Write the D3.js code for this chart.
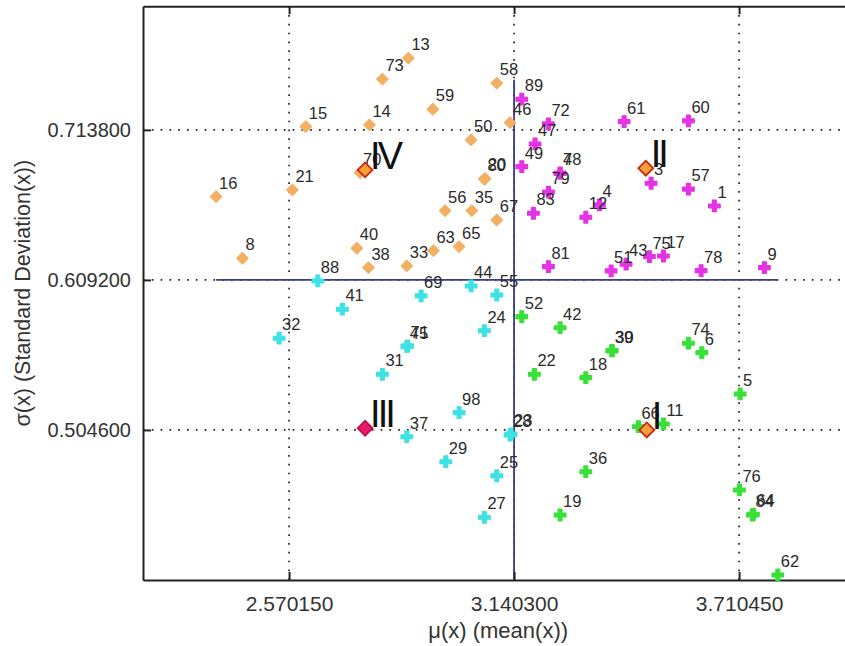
<!DOCTYPE html>
<html>
<head>
<meta charset="utf-8">
<script src="https://cdn.jsdelivr.net/npm/d3@7"></script>
<style>
  html, body { margin: 0; padding: 0; background: #fff; }
  svg { display: block; }
</style>
</head>
<body>
<svg id="chart" width="845" height="646"></svg>
<script>
// ---------------- DATA ----------------
const xTicks = [2.570150, 3.140300, 3.710450];
const yTicks = [0.504600, 0.609200, 0.713800];
const xTickLabels = ["2.570150", "3.140300", "3.710450"];
const yTickLabels = ["0.504600", "0.609200", "0.713800"];

// Cluster IV (orange)
const orangeLabels = ["13","73","58","59","15","14","46","50","70","80","20","16","21","56","35","67","40","63","65","8","38","33"];
const orangeX = [2.8725,2.8066,3.0965,2.9344,2.6125,2.7737,3.1302,3.0314,2.7500,3.0651,3.0665,2.3852,2.5786,2.9655,3.0332,3.0965,2.7418,2.9359,3.0010,2.4519,2.7712,2.8685];
const orangeY = [0.7638,0.7492,0.7464,0.7282,0.7161,0.7173,0.7189,0.7068,0.6840,0.6794,0.6800,0.6673,0.6720,0.6575,0.6575,0.6510,0.6313,0.6296,0.6324,0.6243,0.6178,0.6190];

// Cluster III (cyan)
const cyanLabels = ["88","69","44","55","41","32","24","45","71","31","98","37","29","25","27","28","23"];
const cyanX = [2.6430,2.9047,3.0314,3.0965,2.7053,2.5449,3.0651,2.8685,2.8705,2.8066,3.0010,2.8685,2.9673,3.0965,3.0651,3.1302,3.1327];
const cyanY = [0.6085,0.5981,0.6050,0.5987,0.5888,0.5686,0.5738,0.5627,0.5632,0.5434,0.5167,0.4999,0.4825,0.4727,0.4437,0.5011,0.5018];

// Cluster I (green)
const greenLabels = ["52","42","39","30","22","18","74","6","5","66","11","36","19","76","84","64","62"];
const greenX = [3.1599,3.2569,3.3880,3.3890,3.1918,3.3221,3.5821,3.6160,3.7131,3.4553,3.5187,3.3221,3.2569,3.7113,3.7443,3.7468,3.8086];
const greenY = [0.5836,0.5759,0.5597,0.5600,0.5434,0.5411,0.5651,0.5585,0.5297,0.5069,0.5088,0.4755,0.4453,0.4628,0.4453,0.4458,0.4035];

// Cluster II (magenta)
const magentaLabels = ["89","72","47","49","48","7","79","83","4","12","61","60","3","57","1","81","51","43","75","17","78","9"];
const magentaX = [3.1599,3.2273,3.1936,3.1599,3.2569,3.2569,3.2273,3.1893,3.3565,3.3221,3.4191,3.5821,3.4875,3.5821,3.6479,3.2273,3.3862,3.4242,3.4832,3.5187,3.6142,3.7746];
const magentaY = [0.7352,0.7180,0.7040,0.6882,0.6836,0.6836,0.6704,0.6557,0.6615,0.6529,0.7196,0.7201,0.6766,0.6725,0.6608,0.6185,0.6155,0.6202,0.6255,0.6259,0.6157,0.6178];

// Cluster centres
const centreLabels = ["IV","II","III","I"];
const centreX = [2.7628, 3.4741, 2.7628, 3.4766];
const centreY = [0.6859, 0.6871, 0.5058, 0.5046];

// Reference lines (mean of x, mean of sigma)
const hLineY = 0.6092;
const hLineX = [2.3852, 3.8086];
const vLineX = 3.1403;
const vLineY = [0.4000, 0.7487];

const xDomain = [2.2, 4.0];
const yDomain = [0.4, 0.8];

// ---------------- DRAW ----------------
const svg = d3.select("#chart");
const mLeft = 143, mTop = 6.25, mBottom = 580;
const pxPerX = 225 / 0.57015;
const mRight = mLeft + (xDomain[1] - xDomain[0]) * pxPerX;

const x = d3.scaleLinear().domain(xDomain).range([mLeft, mRight]);
const y = d3.scaleLinear().domain(yDomain).range([mBottom, mTop]);

const FONT = "'Liberation Sans', Arial, Helvetica, sans-serif";
const textCol = "#2a2a2a";

// grid (dotted)
const grid = svg.append("g");
grid.selectAll("line.gx").data(xTicks).join("line")
  .attr("x1", d => x(d)).attr("x2", d => x(d))
  .attr("y1", mTop).attr("y2", mBottom)
  .attr("stroke", "#222").attr("stroke-width", 1.7)
  .attr("stroke-dasharray", "1.7,7.1");
grid.selectAll("line.gy").data(yTicks).join("line")
  .attr("x1", mLeft).attr("x2", mRight)
  .attr("y1", d => y(d)).attr("y2", d => y(d))
  .attr("stroke", "#222").attr("stroke-width", 1.7)
  .attr("stroke-dasharray", "1.7,7.1");

// reference lines
svg.append("line")
  .attr("x1", x(hLineX[0])).attr("x2", x(hLineX[1]))
  .attr("y1", y(hLineY)).attr("y2", y(hLineY))
  .attr("stroke", "#3b3b86").attr("stroke-width", 1.8);
svg.append("line")
  .attr("x1", x(vLineX)).attr("x2", x(vLineX))
  .attr("y1", y(vLineY[0])).attr("y2", y(vLineY[1]))
  .attr("stroke", "#3b3b86").attr("stroke-width", 1.8);

// axes
const axB = d3.axisBottom(x).tickValues(xTicks).tickFormat((d, i) => xTickLabels[i]).tickSizeInner(-8).tickSizeOuter(0).tickPadding(16);
const axT = d3.axisTop(x).tickValues(xTicks).tickFormat("").tickSizeInner(-8).tickSizeOuter(0);
const axL = d3.axisLeft(y).tickValues(yTicks).tickFormat((d, i) => yTickLabels[i]).tickSizeInner(-8).tickSizeOuter(0).tickPadding(12);

function styleAxis(g, size) {
  g.select(".domain").attr("stroke", "#222").attr("stroke-width", 2);
  g.selectAll(".tick line").attr("stroke", "#222").attr("stroke-width", 2);
  g.selectAll(".tick text").attr("fill", "#333").style("font-family", FONT).style("font-size", size + "px");
}
svg.append("g").attr("transform", `translate(0,${mBottom})`).call(axB).call(g => styleAxis(g, 21));
svg.append("g").attr("transform", `translate(0,${mTop})`).call(axT).call(g => styleAxis(g, 21));
svg.append("g").attr("transform", `translate(${mLeft},0)`).call(axL).call(g => styleAxis(g, 20));
svg.append("line").attr("x1", mRight).attr("x2", mRight).attr("y1", mTop).attr("y2", mBottom)
  .attr("stroke", "#222").attr("stroke-width", 2);

// axis titles
svg.append("text").attr("x", (mLeft + mRight) / 2).attr("y", 638)
  .attr("text-anchor", "middle").attr("fill", "#333")
  .style("font-family", FONT).style("font-size", "22px")
  .text("μ(x) (mean(x))");
svg.append("text").attr("transform", `translate(30,${(mTop + mBottom) / 2}) rotate(-90)`)
  .attr("text-anchor", "middle").attr("fill", "#333")
  .style("font-family", FONT).style("font-size", "21.5px")
  .text("σ(x) (Standard Deviation(x))");

// points
function cluster(labels, xs, ys, color, symType, size, rot) {
  const data = labels.map((l, i) => ({ l, x: xs[i], y: ys[i] }));
  const g = svg.append("g");
  const sym = d3.symbol().type(symType).size(size);
  g.selectAll("path").data(data).join("path")
    .attr("d", sym)
    .attr("transform", d => `translate(${x(d.x)},${y(d.y)}) rotate(${rot})`)
    .attr("fill", color).attr("stroke", color).attr("stroke-width", 1.2)
    .attr("stroke-linejoin", "round");
  return data;
}
const allLabels = [];
allLabels.push(...cluster(orangeLabels, orangeX, orangeY, "#f2b064", d3.symbolSquare, 66, 45));
allLabels.push(...cluster(cyanLabels, cyanX, cyanY, "#3ee2e2", d3.symbolCross, 75, 0));
allLabels.push(...cluster(greenLabels, greenX, greenY, "#38e038", d3.symbolCross, 75, 0));
allLabels.push(...cluster(magentaLabels, magentaX, magentaY, "#e432e4", d3.symbolCross, 75, 0));

// labels
svg.append("g").selectAll("text").data(allLabels).join("text")
  .attr("x", d => x(d.x) + 3).attr("y", d => y(d.y) - 8)
  .attr("fill", textCol)
  .style("font-family", FONT).style("font-size", "16.5px")
  .text(d => d.l);

// centres
const centres = centreLabels.map((l, i) => ({ l, x: centreX[i], y: centreY[i] }));
const cfill = ["#f5a035", "#f5a035", "#e8186a", "#f5a035"];
const cstroke = ["#c8281a", "#c8281a", "#c0104a", "#c8281a"];
svg.append("g").selectAll("path").data(centres).join("path")
  .attr("d", d3.symbol().type(d3.symbolSquare).size(110))
  .attr("transform", d => `translate(${x(d.x)},${y(d.y)}) rotate(45)`)
  .attr("fill", (d, i) => cfill[i]).attr("stroke", (d, i) => cstroke[i]).attr("stroke-width", 1.8);
svg.append("g").selectAll("text").data(centres).join("text")
  .attr("x", d => x(d.x) + 5).attr("y", d => y(d.y) - 1)
  .attr("fill", "#111")
  .style("font-family", FONT).style("font-size", "38px")
  .style("letter-spacing", "-3px")
  .text(d => d.l);
</script>
</body>
</html>
